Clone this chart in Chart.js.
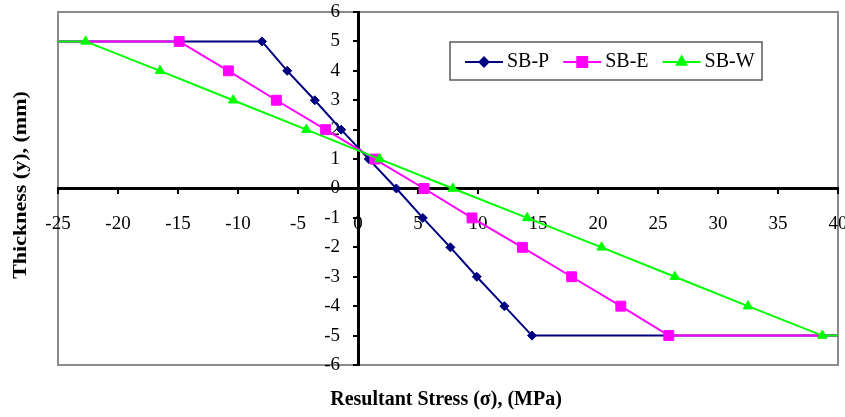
<!DOCTYPE html>
<html>
<head>
<meta charset="utf-8">
<script src="https://cdn.jsdelivr.net/npm/chart.js@4/dist/chart.umd.min.js"></script>
<style>
  html, body { margin: 0; padding: 0; background: #ffffff; }
  #c { display: block; }
</style>
</head>
<body>
<canvas id="c" width="845" height="417"></canvas>
<script>
// Thickness positions through the section (mm)
const thickness = [5, 4, 3, 2, 1, 0, -1, -2, -3, -4, -5];

// Resultant stress at each thickness position (MPa)
const stressSBP = [-8.0, -5.9, -3.6, -1.4, 0.9, 3.2, 5.4, 7.7, 9.9, 12.2, 14.5];
const stressSBE = [-14.9, -10.8, -6.8, -2.7, 1.4, 5.5, 9.5, 13.7, 17.8, 21.9, 25.9];
const stressSBW = [-22.7, -16.5, -10.4, -4.3, 1.8, 7.9, 14.1, 20.3, 26.4, 32.5, 38.7];

const seriesNames = ['SB-P', 'SB-E', 'SB-W'];

// Axis limits and steps
const xRange = [-25, 40];
const yRange = [-6, 6];
const xStep = 5;
const yStep = 1;

const FONT = '"Liberation Serif", "Times New Roman", serif';

// Each profile is held flat at the outer faces out to the axis limits
function profile(stress) {
  const pts = thickness.map((t, i) => ({ x: stress[i], y: t }));
  pts.unshift({ x: xRange[0], y: thickness[0] });
  pts.push({ x: xRange[1], y: thickness[thickness.length - 1] });
  return pts;
}
function radii(r) {
  const a = thickness.map(() => r);
  return [0, ...a, 0];
}

const styles = [
  { color: '#000080', shape: 'rectRot', r: 4.5, order: 3 },
  { color: '#FF00FF', shape: 'rect', r: 7, order: 2 },
  { color: '#00FF00', shape: 'triangle', r: 5.5, order: 1 }
];
const stressSets = [stressSBP, stressSBE, stressSBW];

const datasets = seriesNames.map((name, i) => ({
  label: name,
  data: profile(stressSets[i]),
  borderColor: styles[i].color,
  backgroundColor: styles[i].color,
  pointBackgroundColor: styles[i].color,
  pointBorderColor: styles[i].color,
  pointBorderWidth: 1,
  pointStyle: styles[i].shape,
  pointRadius: radii(styles[i].r),
  pointHoverRadius: radii(styles[i].r),
  borderWidth: 2,
  tension: 0,
  fill: false,
  order: styles[i].order,
  clip: false
}));

// Grey frame around the plotting area and the two axis titles
const framePlugin = {
  id: 'frame',
  beforeDraw(chart) {
    const { ctx, chartArea: a } = chart;
    ctx.save();
    ctx.strokeStyle = '#8c8c8c';
    ctx.lineWidth = 2;
    ctx.strokeRect(a.left, a.top, a.right - a.left, a.bottom - a.top);
    ctx.restore();
  },
  afterDraw(chart) {
    const { ctx } = chart;
    ctx.save();
    ctx.fillStyle = '#000';
    ctx.textAlign = 'center';
    ctx.textBaseline = 'middle';
    ctx.font = 'bold 20px ' + FONT;
    ctx.fillText('Resultant Stress (\u03c3), (MPa)', 446, 400);
    ctx.translate(21, 185);
    ctx.rotate(-Math.PI / 2);
    ctx.scale(1, 0.88);
    ctx.font = 'bold 22px ' + FONT;
    ctx.fillText('Thickness (y), (mm)', 0, 0);
    ctx.restore();
  }
};

// Boxed legend with a line sample through each marker
const legendPlugin = {
  id: 'boxLegend',
  afterDraw(chart) {
    const { ctx } = chart;
    const box = { x: 450, y: 42, w: 312, h: 38 };
    ctx.save();
    ctx.fillStyle = '#fff';
    ctx.fillRect(box.x, box.y, box.w, box.h);
    ctx.strokeStyle = '#5a5a5a';
    ctx.lineWidth = 1.5;
    ctx.strokeRect(box.x, box.y, box.w, box.h);
    ctx.font = '20px ' + FONT;
    ctx.textBaseline = 'middle';
    ctx.textAlign = 'left';
    const cy = box.y + box.h / 2 + 1;
    let x = 465;
    chart.data.datasets.forEach((ds, i) => {
      const st = styles[i];
      ctx.strokeStyle = st.color;
      ctx.lineWidth = 2;
      ctx.beginPath();
      ctx.moveTo(x, cy);
      ctx.lineTo(x + 38, cy);
      ctx.stroke();
      ctx.fillStyle = st.color;
      Chart.helpers.drawPoint(ctx, {
        pointStyle: st.shape, radius: st.r, borderWidth: 1, rotation: 0
      }, x + 19, cy);
      ctx.fillStyle = '#000';
      ctx.fillText(ds.label, x + 42, cy);
      x += 42 + ctx.measureText(ds.label).width + 14;
    });
    ctx.restore();
  }
};

function noOverflow(scale) {
  scale.paddingLeft = 0;
  scale.paddingRight = 0;
  scale.paddingTop = 0;
  scale.paddingBottom = 0;
}

// Labels of the crossing value axis sit left of its tick marks
function offsetYLabels(scale) {
  const base = scale._computeLabelItems;
  const shift = scale.options.grid.tickLength + scale.options.ticks.padding;
  scale._computeLabelItems = function (area) {
    const items = base.call(this, area);
    items.forEach(it => { it.options.translation[0] -= shift; });
    return items;
  };
  scale._labelItems = null;
}

new Chart(document.getElementById('c'), {
  type: 'line',
  data: { datasets },
  options: {
    responsive: false,
    animation: false,
    events: [],
    layout: { padding: { left: 58, right: 7, top: 12, bottom: 52 } },
    plugins: {
      legend: { display: false },
      tooltip: { enabled: false },
      title: { display: false }
    },
    scales: {
      x: {
        type: 'linear',
        min: xRange[0],
        max: xRange[1],
        position: { y: 0 },
        afterFit: noOverflow,
        border: { display: true, color: '#000', width: 3 },
        grid: { drawOnChartArea: false, drawTicks: true, tickLength: 4, color: '#000', lineWidth: 2 },
        ticks: {
          stepSize: xStep, autoSkip: false, maxRotation: 0, padding: 20,
          color: '#000', font: { family: FONT, size: 19 }
        }
      },
      y: {
        type: 'linear',
        min: yRange[0],
        max: yRange[1],
        position: { x: 0 },
        afterFit: noOverflow,
        afterUpdate: offsetYLabels,
        border: { display: true, color: '#000', width: 3 },
        grid: { drawOnChartArea: false, drawTicks: true, tickLength: 4, color: '#000', lineWidth: 2 },
        ticks: {
          stepSize: yStep, autoSkip: false, padding: 14,
          color: '#000', font: { family: FONT, size: 19 }
        }
      }
    }
  },
  plugins: [framePlugin, legendPlugin]
});
</script>
</body>
</html>
